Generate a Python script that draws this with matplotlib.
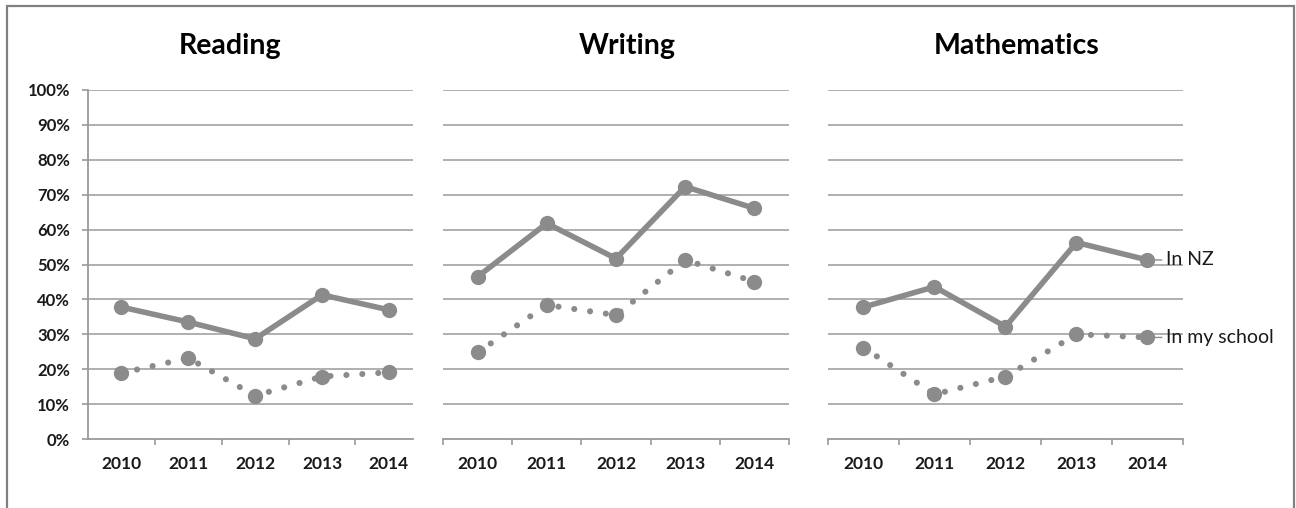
import numpy as np
import matplotlib.pyplot as plt
from matplotlib.patches import Rectangle
from matplotlib.ticker import FixedLocator, PercentFormatter

# ====================
# Data
# ====================
years = ["2010", "2011", "2012", "2013", "2014"]
subjects = ["Reading", "Writing", "Mathematics"]

reading_nz = [37.8, 33.5, 28.7, 41.3, 37.0]
reading_school = [18.9, 23.2, 12.4, 17.9, 19.1]

writing_nz = [46.5, 61.8, 51.7, 72.3, 66.1]
writing_school = [24.8, 38.4, 35.5, 51.3, 45.1]

maths_nz = [37.8, 43.6, 32.2, 56.3, 51.3]
maths_school = [26.2, 12.8, 17.9, 30.0, 29.1]

series_names = ["In NZ", "In my school"]

# ====================
# Style
# ====================
W, H = 1296, 508
LINE_C = "#8b8b8b"
GRID_C = "#a9a9a9"
AXIS_C = "#9a9a9a"
TEXT_C = "#1a1a1a"
plt.rcParams["font.family"] = ["Lato", "DejaVu Sans"]

# panel boxes in pixels: left, right, and right xlim
panels = [
    (88, 413, 4.36),
    (443, 789, 4.5),
    (828, 1183, 4.5),
]
title_x = [230, 627, 1017]
y_top, y_bot = 90, 439


def px_box(left, right):
    return [left / W, (H - y_bot) / H, (right - left) / W, (y_bot - y_top) / H]


fig = plt.figure(figsize=(W / 100, H / 100), dpi=100)

# outer frame
fig.patches.append(Rectangle((7 / W, -0.05), (1294 - 7) / W, (H - 6) / H + 0.05,
                             transform=fig.transFigure, fill=False,
                             edgecolor="#808080", linewidth=1.6))

data = [
    (reading_nz, reading_school),
    (writing_nz, writing_school),
    (maths_nz, maths_school),
]
x = np.arange(len(years))

for i, (subject, (nz, school)) in enumerate(zip(subjects, data)):
    left, right, xmax = panels[i]
    ax = fig.add_axes(px_box(left, right))
    ax.set_xlim(-0.5, xmax)
    ax.set_ylim(0, 100)

    for spine in ["top", "right"]:
        ax.spines[spine].set_visible(False)
    ax.spines["bottom"].set_color(AXIS_C)
    ax.spines["bottom"].set_linewidth(1.3)
    if i == 0:
        ax.spines["left"].set_color(AXIS_C)
        ax.spines["left"].set_linewidth(1.3)
    else:
        ax.spines["left"].set_visible(False)

    # horizontal gridlines
    for g in range(10, 101, 10):
        ax.axhline(g, color=GRID_C, linewidth=1.3, zorder=1)

    # y axis
    ax.set_yticks(np.arange(0, 101, 10))
    ax.yaxis.set_major_formatter(PercentFormatter(decimals=0))
    if i == 0:
        ax.tick_params(axis="y", length=4, width=1.2, color=AXIS_C, pad=9,
                       labelsize=12, labelcolor=TEXT_C)
        for lab in ax.get_yticklabels():
            lab.set_fontweight("bold")
    else:
        ax.tick_params(axis="y", left=False, labelleft=False)

    # x axis: labels at category centres, tick marks between categories
    ax.set_xticks(x)
    ax.set_xticklabels(years, fontweight="bold")
    ax.tick_params(axis="x", which="major", length=0, pad=12,
                   labelsize=12.5, labelcolor=TEXT_C)
    bounds = np.arange(-0.5, 4.6, 1.0) if i > 0 else np.arange(0.5, 4.0, 1.0)
    ax.xaxis.set_minor_locator(FixedLocator(bounds))
    ax.tick_params(axis="x", which="minor", length=4, width=1.2, color=AXIS_C)

    ax.plot(x, nz, color=LINE_C, linewidth=4.0, marker="o", markersize=10,
            solid_joinstyle="round", zorder=3, clip_on=False)
    ax.plot(x, school, color=LINE_C, linewidth=4.4, linestyle=(0, (0.01, 2.6)),
            dash_capstyle="round", marker="o", markersize=10, zorder=3,
            clip_on=False)

    fig.text(title_x[i] / W, 1 - 46 / H, subject, ha="center", va="center",
             fontsize=20.5, fontweight="bold", color="black")

    if i == 2:
        for name, vals in zip(series_names, (nz, school)):
            ax.annotate(name, xy=(x[-1], vals[-1]), xytext=(x[-1] + 0.26, vals[-1]),
                        ha="left", va="center", fontsize=14, color=TEXT_C,
                        annotation_clip=False,
                        arrowprops=dict(arrowstyle="-", color=LINE_C, lw=1.0,
                                        shrinkA=1, shrinkB=0))

fig.savefig("out.png", dpi=100)
